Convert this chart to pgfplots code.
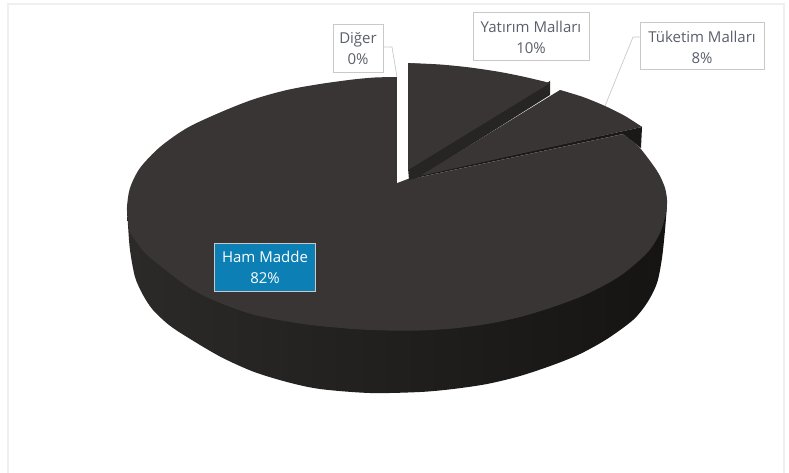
\documentclass[border=0pt]{standalone}
\usepackage{pgfplots}
\pgfplotsset{compat=1.18}
\usepackage{fontspec}
\setmainfont{Open Sans}
\definecolor{topc}{HTML}{383534}
\definecolor{sidea}{HTML}{2C2A29}
\definecolor{sideb}{HTML}{1E1D1C}
\definecolor{sidec}{HTML}{151413}
\definecolor{wedge}{HTML}{272524}
\definecolor{dark}{HTML}{1A1918}
\definecolor{labeltxt}{HTML}{5A5F6B}
\definecolor{boxline}{HTML}{C9C9C9}
\definecolor{framec}{HTML}{EFEFEF}
\definecolor{hamblue}{HTML}{0C7FB4}
\begin{document}
\begin{tikzpicture}
\path[use as bounding box] (0,0) rectangle (789pt,473pt);
\begin{axis}[at={(0,0)},anchor=south west,scale only axis,width=789pt,height=473pt,
  xmin=0,xmax=789,ymin=0,ymax=473,y dir=reverse,hide axis,clip=true]
% frame
\addplot[framec,line width=1.6pt] coordinates {(8,473)(8,4)(784,4)(784,473)};
% leaders
\addplot[boxline,line width=0.7pt] coordinates {(383,47)(392,47)(397,77)};
\addplot[boxline,line width=0.7pt] coordinates {(640,37)(633,37)(605,106)};
% body side
\addplot[draw=none,left color=sidea,middle color=sideb,right color=sidec,smooth,tension=0.5] coordinates {
(127,207)(128,225)(130,250)(135,277)(143,295)(153,310)(169,325)(187,337)(220,356.5)(253,371.5)(287,382)(320,389)(370,393)(420,392)(453,389)(487,384)(520,376)(553,365)(580,354)(607,339)(633,320)(647,303)(657,283)(662,258)(665,230)(667,205)};
% Ham Madde top (rim)
\addplot[draw=none,fill=topc,smooth,tension=0.5] coordinates {
(397,77)(375,77.5)(353,79.5)(320,84)(287,90)(253,99.5)(220,112.5)(187,128)(160,147)(140,168)(130,188)(127,207)(128,220)(130,232)(137,243)(147,255)(170,273.5)(190,288)(213,300)(253,314.5)(303,324)(353,329)(387,330.5)(420,330.5)(453,328.5)(487,324)(520,317)(553,307)(587,294)(620,276)(647,253)(660,233)(666,213)(667,200)(665,188)(660,176)(653,165)(640,148)(632,141)(623,134)};
% opening of the pie
\addplot[draw=none,fill=white] coordinates {(397,70)(397,183)(410,178)(420,177)(623,134)(623,130)} -- cycle;
% Yatirim side and top
\addplot[draw=none,fill=wedge] coordinates {(408,168)(550,81)(550,95)(420,177)(409,180)} -- cycle;
\addplot[draw=none,fill=topc,smooth,tension=0.5] coordinates {(408,63)(440,64.5)(470,67.5)(500,72)(525,77)(550,83)};
\addplot[draw=none,fill=topc] coordinates {(408,63)(440,65.5)(470,69)(500,73.5)(550,83)(408,170)} -- cycle;
% Tuketim side and top
\addplot[draw=none,fill=dark] coordinates {(642,127)(641,148)(623,134)(420,177)(420,175)} -- cycle;
\addplot[draw=none,fill=topc,smooth,tension=0.5] coordinates {(560,90)(583,97)(605,106)(625,116)(642,127)};
\addplot[draw=none,fill=topc] coordinates {(560,90)(583,98)(605,107)(625,117)(642,127)(420,176)} -- cycle;
% label boxes
\addplot[boxline,line width=0.8pt,fill=white] coordinates {(333.5,24)(383,24)(383,72)(333.5,72)} -- cycle;
\addplot[boxline,line width=0.8pt,fill=white] coordinates {(473.5,12.5)(589,12.5)(589,60)(473.5,60)} -- cycle;
\addplot[boxline,line width=0.8pt,fill=white] coordinates {(640,22)(764,22)(764,69)(640,69)} -- cycle;
\addplot[boxline,line width=0.8pt,fill=hamblue] coordinates {(214.5,243)(315,243)(315,291)(214.5,291)} -- cycle;
\node[text=labeltxt,align=center,font=\fontsize{15}{21}\selectfont] at (axis cs:358,48.5) {Diğer\\0\%};
\node[text=labeltxt,align=center,font=\fontsize{15}{21}\selectfont] at (axis cs:531,37) {Yatırım Malları\\10\%};
\node[text=labeltxt,align=center,font=\fontsize{15}{21}\selectfont] at (axis cs:702,47.5) {Tüketim Malları\\8\%};
\node[text=white,align=center,font=\fontsize{15}{21}\selectfont] at (axis cs:265,267.5) {Ham Madde\\82\%};
\end{axis}
\end{tikzpicture}
\end{document}
